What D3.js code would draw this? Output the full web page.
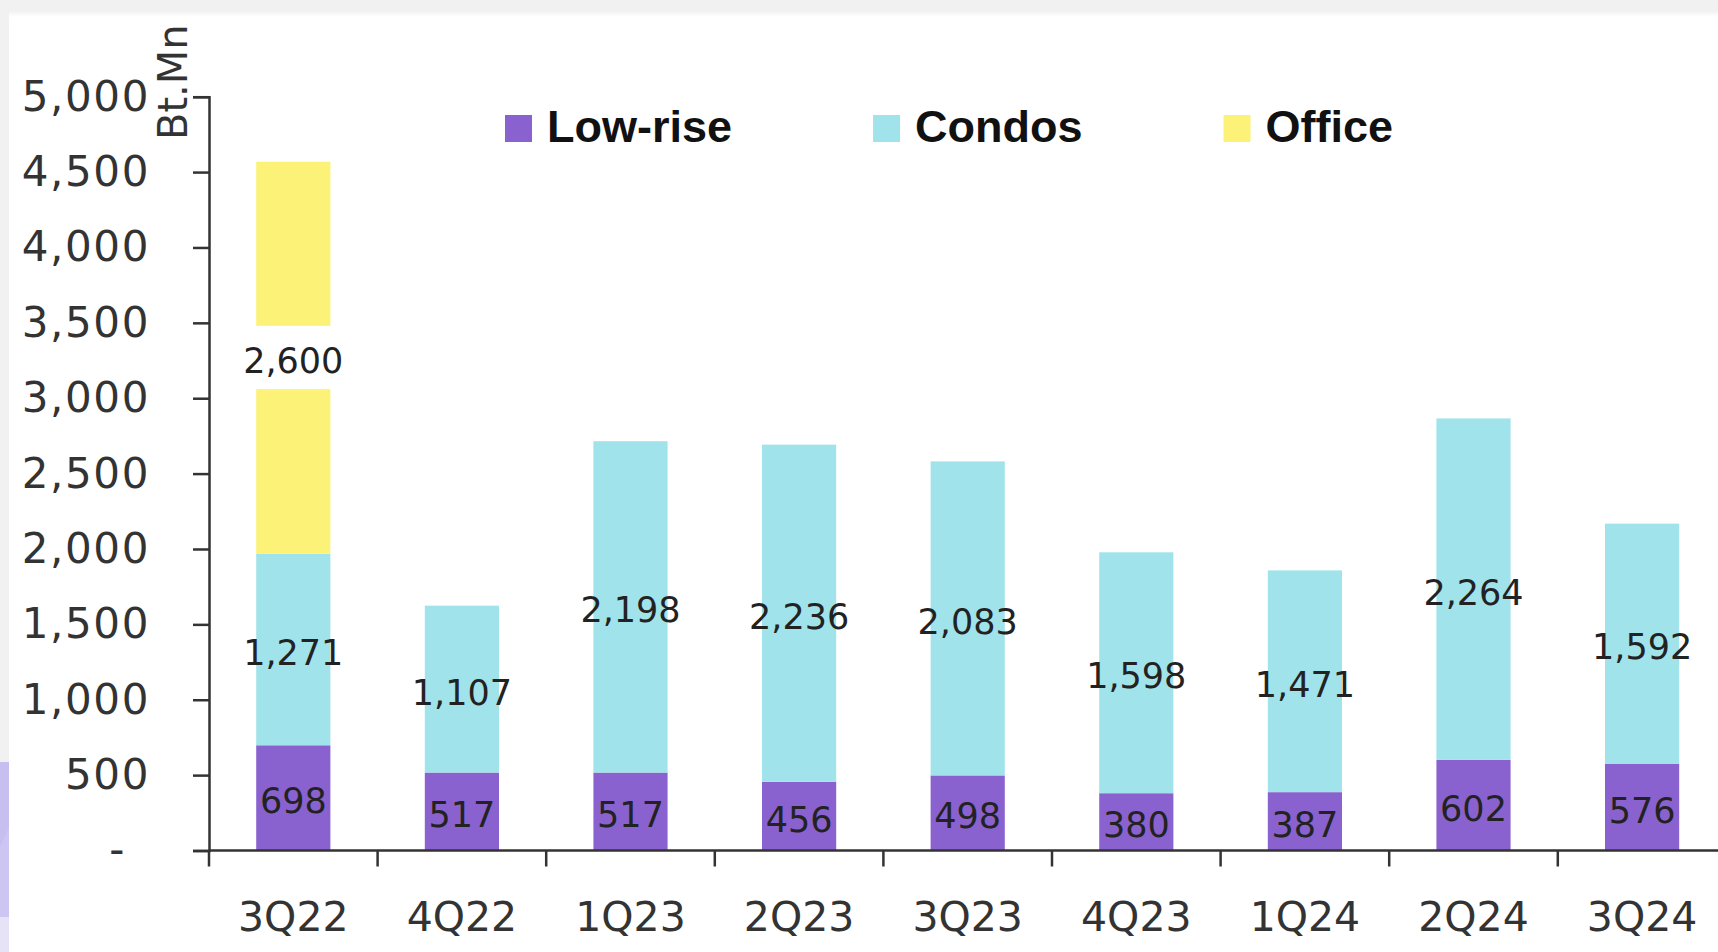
<!DOCTYPE html>
<html><head><meta charset="utf-8">
<script src="https://cdn.jsdelivr.net/npm/d3@7"></script>
<style>html,body{margin:0;padding:0;background:#f1f1f1;overflow:hidden}svg{display:block}</style>
</head><body>
<svg id="chart" width="1718" height="952"></svg>
<script>
// ---- data ----
const categories = ["3Q22","4Q22","1Q23","2Q23","3Q23","4Q23","1Q24","2Q24","3Q24"];
const lowRise = [698,517,517,456,498,380,387,602,576];
const condos  = [1271,1107,2198,2236,2083,1598,1471,2264,1592];
const office  = [2600,0,0,0,0,0,0,0,0];
const seriesKeys = ["Low-rise","Condos","Office"];
const seriesColors = ["#8a62cf","#a1e3ea","#fdf278"];
const yTicks = [0,500,1000,1500,2000,2500,3000,3500,4000,4500,5000];
const yMax = 5000;
const axisBreak = [3060, 3480]; // value range left blank in the tall bar (axis break)
const unitLabel = "Bt.Mn";

// ---- layout ----
const W = 1718, H = 952;
const svg = d3.select("#chart");
const plotLeft = 209, baseY = 850.5, topY = 96.7, step = 168.6;

// background panel
const defs = svg.append("defs");
const g1 = defs.append("linearGradient").attr("id","topShade").attr("x1",0).attr("x2",0).attr("y1",0).attr("y2",1);
g1.append("stop").attr("offset","0%").attr("stop-color","#f1f1f1");
g1.append("stop").attr("offset","100%").attr("stop-color","#ffffff");
svg.append("rect").attr("x",0).attr("y",0).attr("width",W).attr("height",H).attr("fill","#f1f1f1");
svg.append("rect").attr("x",9).attr("y",14).attr("width",W-9).attr("height",H-14).attr("fill","#ffffff");
svg.append("rect").attr("x",9).attr("y",11).attr("width",W-9).attr("height",6).attr("fill","url(#topShade)");
svg.append("rect").attr("x",0).attr("y",762).attr("width",9).attr("height",155).attr("fill","#c7bff0");
svg.append("polygon").attr("points","0,847 9,827 9,917 0,917").attr("fill","#cdc6f2");
svg.append("rect").attr("x",0).attr("y",917).attr("width",9).attr("height",35).attr("fill","#e6e3f6");

// ---- scales ----
const y = d3.scaleLinear().domain([0, yMax]).range([baseY, topY]);
const x = d3.scaleBand().domain(categories)
  .range([plotLeft, plotLeft + step * categories.length])
  .paddingInner(0.56).paddingOuter(0.28).align(0.5);

const rows = categories.map((c,i) => ({cat:c, "Low-rise":lowRise[i], "Condos":condos[i], "Office":office[i]}));
const stacked = d3.stack().keys(seriesKeys)(rows);

const font = "'DejaVu Sans', sans-serif";

// ---- bars ----
const barG = svg.append("g");
stacked.forEach((layer, si) => {
  layer.forEach(seg => {
    const v0 = seg[0], v1 = seg[1];
    if (v1 - v0 <= 0) return;
    let pieces = [[v0, v1]];
    if (v0 < axisBreak[1] && v1 > axisBreak[0]) {
      pieces = [];
      if (v0 < axisBreak[0]) pieces.push([v0, axisBreak[0]]);
      if (v1 > axisBreak[1]) pieces.push([axisBreak[1], v1]);
    }
    pieces.forEach(p => {
      barG.append("rect")
        .attr("x", x(seg.data.cat))
        .attr("width", x.bandwidth())
        .attr("y", y(p[1]))
        .attr("height", y(p[0]) - y(p[1]))
        .attr("fill", seriesColors[si]);
    });
  });
});

// ---- data labels ----
const labG = svg.append("g");
stacked.forEach((layer, si) => {
  layer.forEach(seg => {
    const val = seg[1] - seg[0];
    if (val <= 0) return;
    labG.append("text")
      .attr("x", x(seg.data.cat) + x.bandwidth()/2)
      .attr("y", y((seg[0] + seg[1]) / 2))
      .attr("dy", 3.5)
      .attr("text-anchor","middle")
      .attr("dominant-baseline","central")
      .attr("font-family", font)
      .attr("font-size", 35)
      .attr("fill", "#222")
      .text(d3.format(",")(val));
  });
});

// ---- y axis ----
const yAxis = d3.axisLeft(y).tickValues(yTicks).tickSize(16).tickPadding(46)
  .tickFormat(d => d === 0 ? "-" : d3.format(",")(d));
const yg = svg.append("g").attr("transform", `translate(${plotLeft},0)`).call(yAxis);
yg.select(".domain").attr("stroke","#333").attr("stroke-width",2.5);
yg.selectAll(".tick line").attr("stroke","#333").attr("stroke-width",2.5);
yg.selectAll(".tick text").attr("font-family", font).attr("font-size", 42).attr("fill","#333")
  .attr("letter-spacing", 1.6)
  .attr("dx", d => d === 0 ? -21 : 3);

// ---- x axis ----
const xg = svg.append("g");
xg.append("line").attr("x1", plotLeft).attr("x2", W).attr("y1", baseY).attr("y2", baseY)
  .attr("stroke","#333").attr("stroke-width",2.5);
const bounds = d3.range(categories.length + 1).map(i => x.range()[0] + i * x.step());
xg.selectAll("line.xt").data(bounds).join("line").attr("class","xt")
  .attr("x1", d => d).attr("x2", d => d).attr("y1", baseY).attr("y2", baseY + 16)
  .attr("stroke","#333").attr("stroke-width",2.5);
xg.selectAll("text.xl").data(categories).join("text").attr("class","xl")
  .attr("x", d => x(d) + x.bandwidth()/2)
  .attr("y", 931)
  .attr("text-anchor","middle")
  .attr("font-family", font).attr("font-size", 41).attr("fill","#333")
  .text(d => d);

// unit label
svg.append("text")
  .attr("transform", `translate(187,140) rotate(-90)`)
  .attr("font-family", font).attr("font-size", 40).attr("fill","#333")
  .text(unitLabel);

// ---- legend ----
const leg = svg.append("g");
let lx = 505;
seriesKeys.forEach((k, i) => {
  leg.append("rect").attr("x", lx).attr("y", 115).attr("width", 27).attr("height", 27).attr("fill", seriesColors[i]);
  const t = leg.append("text").attr("x", lx + 42).attr("y", 142)
    .attr("font-family","'Liberation Sans', Arial, sans-serif").attr("font-weight","bold")
    .attr("font-size", 45).attr("fill","#111").text(k);
  lx = lx + 42 + t.node().getComputedTextLength() + 141;
});
</script>
</body></html>
